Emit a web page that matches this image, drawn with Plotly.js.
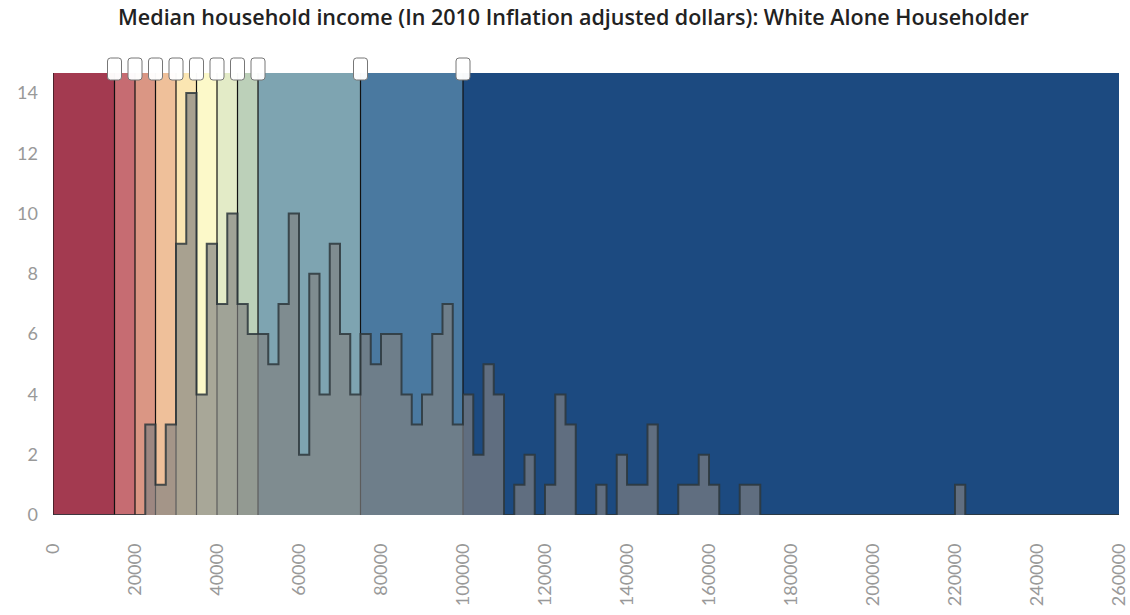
<!DOCTYPE html>
<html>
<head>
<meta charset="utf-8">
<script src="https://cdn.plot.ly/plotly-3.0.1.min.js"></script>
<style>
html,body{margin:0;padding:0;background:#fff;}
#chart{width:1130px;height:615px;}
</style>
</head>
<body>
<div id="chart"></div>
<script>
// Histogram of counties: bins of 2500 dollars starting at 0
const binStart = 0;
const binSize = 2500;
const counts = [
  0,0,0,0,0,0,0,0,0,3,
  1,3,9,14,4,9,7,10,7,6,
  6,5,7,10,2,8,4,9,6,4,
  6,5,6,6,4,3,4,6,7,3,
  4,2,5,4,0,1,2,0,1,4,
  3,0,0,1,0,2,1,1,3,0,
  0,1,1,2,1,0,0,1,1,0,
  0,0,0,0,0,0,0,0,0,0,
  0,0,0,0,0,0,0,0,1,0,
  0,0,0,0,0,0,0,0,0,0,
  0,0,0,0
];
// Colour class breakpoints and colours
const breaks = [0, 15000, 20000, 25000, 30000, 35000, 40000, 45000, 50000, 75000, 100000, 260000];
const bandColors = ['#a33a50','#c66c72','#da9684','#efc09a','#fbe6b2','#fcf9c9','#e3ebc7','#bcd0b9','#7ea4b1','#4a79a0','#1c4a80'];
const handleAt = [15000, 20000, 25000, 30000, 35000, 40000, 45000, 50000, 75000, 100000];
const xTicks = [0,20000,40000,60000,80000,100000,120000,140000,160000,180000,200000,220000,240000,260000];
const yTicks = [0,2,4,6,8,10,12,14];

const xs = [], ys = [];
for (let i = 0; i < counts.length; i++) { xs.push(binStart + i*binSize); ys.push(counts[i]); }
xs.push(binStart + counts.length*binSize); ys.push(counts[counts.length-1]);

const shapes = [];
for (let i = 0; i < bandColors.length; i++) {
  shapes.push({type:'rect', xref:'x', yref:'paper', x0:breaks[i], x1:breaks[i+1], y0:0, y1:1,
    fillcolor:bandColors[i], line:{width:0}, layer:'below'});
}
for (let i = 0; i < breaks.length-1; i++) {
  shapes.push({type:'line', xref:'x', yref:'paper', x0:breaks[i], x1:breaks[i], y0:0, y1:1,
    line:{color:'#111', width:1.2}, layer:'below'});
}
function rr(w,h,r,yb){ // rounded rect path in pixels centered at x=0, from yb to yb+h
  const x0=-w/2,x1=w/2,y0=yb,y1=yb+h;
  return `M${x0+r},${y0} L${x1-r},${y0} Q${x1},${y0} ${x1},${y0+r} L${x1},${y1-r} Q${x1},${y1} ${x1-r},${y1} L${x0+r},${y1} Q${x0},${y1} ${x0},${y1-r} L${x0},${y0+r} Q${x0},${y0} ${x0+r},${y0} Z`;
}
handleAt.forEach(v => {
  shapes.push({type:'path', xref:'x', yref:'paper', xsizemode:'pixel', ysizemode:'pixel',
    xanchor:v, yanchor:1, path: rr(14,22,3,-7),
    fillcolor:'rgba(255,255,255,0.97)', line:{color:'#777', width:1}, layer:'above'});
});

const trace = {
  type:'scatter', mode:'lines', x:xs, y:ys,
  line:{shape:'hv', color:'rgba(45,55,60,0.85)', width:2},
  fill:'tozeroy', fillcolor:'rgba(128,128,128,0.68)',
  hoverinfo:'skip', showlegend:false
};

const layout = {
  width:1130, height:615,
  margin:{l:53, r:11, t:73, b:100, pad:0},
  paper_bgcolor:'#fff', plot_bgcolor:'#fff',
  font:{family:'Lato, "Open Sans", sans-serif', color:'#888'},
  title:{text:'Median household income (In 2010 Inflation adjusted dollars): White Alone Householder',
    font:{family:'"Open Sans", sans-serif', size:21.5, color:'#222', weight:600}, x:0.5075, xanchor:'center', y:0.972, yanchor:'middle'},
  xaxis:{range:[0,260000], tickvals:xTicks, ticktext:xTicks.map(String), tickangle:-90,
    showgrid:false, zeroline:false, showline:false, ticks:'', tickfont:{size:18, color:'#999'}, ticklabelstandoff:24},
  yaxis:{range:[0,14.66], tickvals:yTicks, showgrid:false, zeroline:false, showline:false, ticks:'',
    tickfont:{size:18, color:'#999'}, ticklabelstandoff:14},
  shapes:shapes
};
Plotly.newPlot('chart',[trace],layout,{displayModeBar:false, staticPlot:true});
</script>
</body>
</html>
